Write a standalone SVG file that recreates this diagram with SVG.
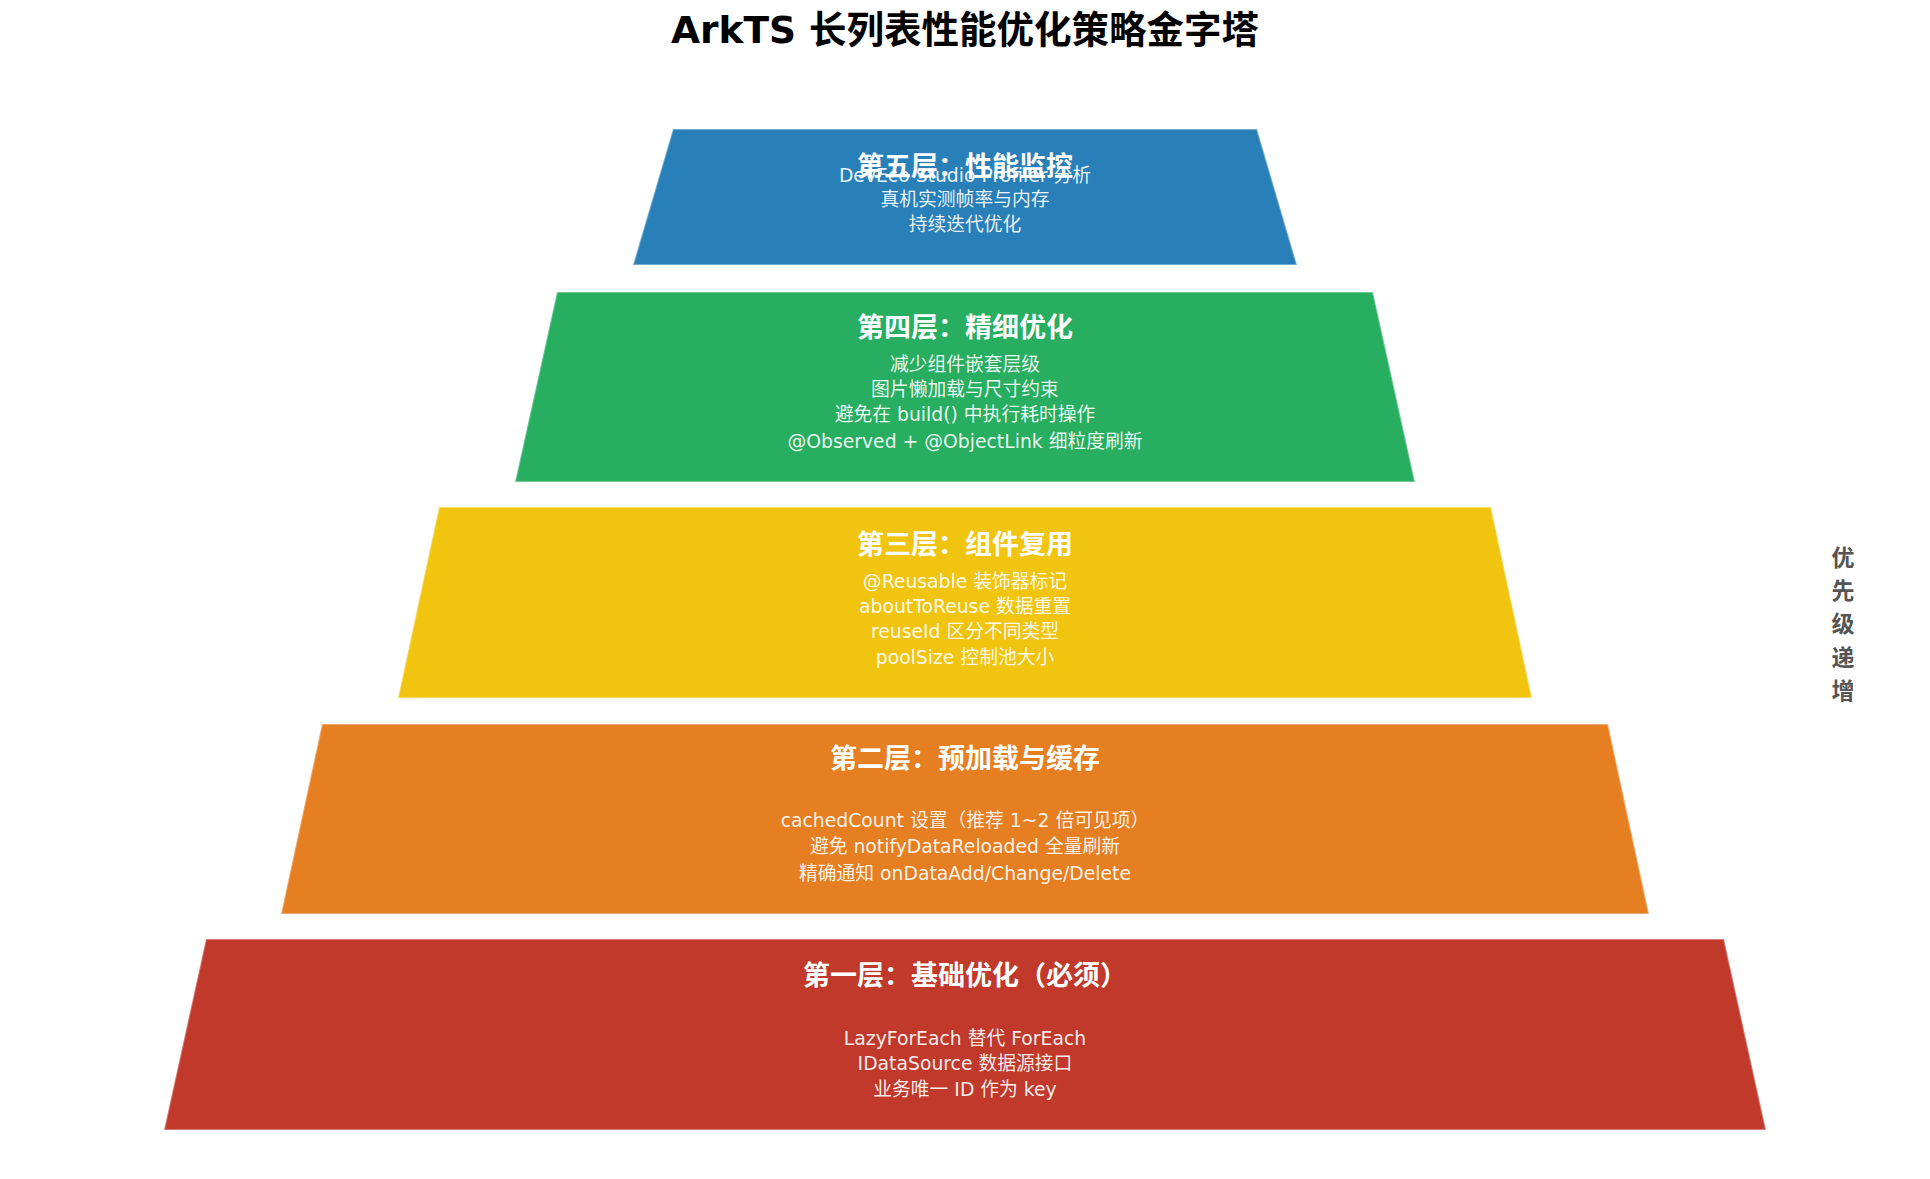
<svg xmlns="http://www.w3.org/2000/svg" width="1930" height="1179" viewBox="0 0 1930 1179">
<style>
.layer{stroke:#ffffff;stroke-opacity:0.35;stroke-width:2}
.ttl{font-family:"Noto Sans CJK SC","DejaVu Sans",sans-serif;font-weight:bold;font-size:27px;fill:#ffffff;text-anchor:middle;dominant-baseline:central}
.body{font-family:"DejaVu Sans","Noto Sans CJK SC",sans-serif;font-size:18.8px;fill:#ffffff;fill-opacity:0.92;text-anchor:middle;dominant-baseline:central}
.main{font-family:"DejaVu Sans","Noto Sans CJK SC",sans-serif;font-weight:bold;font-size:37.5px;fill:#000000;text-anchor:middle;dominant-baseline:central}
.side{font-family:"Noto Sans CJK SC",sans-serif;font-weight:bold;font-size:23px;fill:#555555;text-anchor:middle;dominant-baseline:central}
</style>
<rect width="1930" height="1179" fill="#ffffff"/>
<text class="main" x="965" y="30">ArkTS 长列表性能优化策略金字塔</text>
<g id="connectors"></g>
<g id="layer5">
<polygon class="layer" fill="#2980B9" points="673,129 1257,129 1297,265 633,265"/>
<text class="ttl" x="965" y="164">第五层：性能监控</text>
<text class="body" x="965" y="175">DevEco Studio Profiler 分析</text>
<text class="body" x="965" y="199">真机实测帧率与内存</text>
<text class="body" x="965" y="224">持续迭代优化</text>
</g>
<g id="layer4">
<polygon class="layer" fill="#27AE60" points="557,292 1373,292 1415,482 515,482"/>
<text class="ttl" x="965" y="325">第四层：精细优化</text>
<text class="body" x="965" y="364">减少组件嵌套层级</text>
<text class="body" x="965" y="389">图片懒加载与尺寸约束</text>
<text class="body" x="965" y="414">避免在 build() 中执行耗时操作</text>
<text class="body" x="965" y="441">@Observed + @ObjectLink 细粒度刷新</text>
</g>
<g id="layer3">
<polygon class="layer" fill="#F1C40F" points="439,507 1491,507 1532,698 398,698"/>
<text class="ttl" x="965" y="542">第三层：组件复用</text>
<text class="body" x="965" y="581">@Reusable 装饰器标记</text>
<text class="body" x="965" y="606">aboutToReuse 数据重置</text>
<text class="body" x="965" y="631">reuseId 区分不同类型</text>
<text class="body" x="965" y="657">poolSize 控制池大小</text>
</g>
<g id="layer2">
<polygon class="layer" fill="#E67E22" points="322,724 1608,724 1649,914 281,914"/>
<text class="ttl" x="965" y="756">第二层：预加载与缓存</text>
<text class="body" x="965" y="820">cachedCount 设置（推荐 1~2 倍可见项）</text>
<text class="body" x="965" y="846">避免 notifyDataReloaded 全量刷新</text>
<text class="body" x="965" y="873">精确通知 onDataAdd/Change/Delete</text>
</g>
<g id="layer1">
<polygon class="layer" fill="#C0392B" points="206,939 1724,939 1766,1130 164,1130"/>
<text class="ttl" x="965" y="973">第一层：基础优化（必须）</text>
<text class="body" x="965" y="1038">LazyForEach 替代 ForEach</text>
<text class="body" x="965" y="1063">IDataSource 数据源接口</text>
<text class="body" x="965" y="1089">业务唯一 ID 作为 key</text>
</g>
<g id="priority">
<text class="side" x="1843" y="556">优</text>
<text class="side" x="1843" y="589">先</text>
<text class="side" x="1843" y="622">级</text>
<text class="side" x="1843" y="656">递</text>
<text class="side" x="1843" y="689">增</text>
</g>
</svg>
